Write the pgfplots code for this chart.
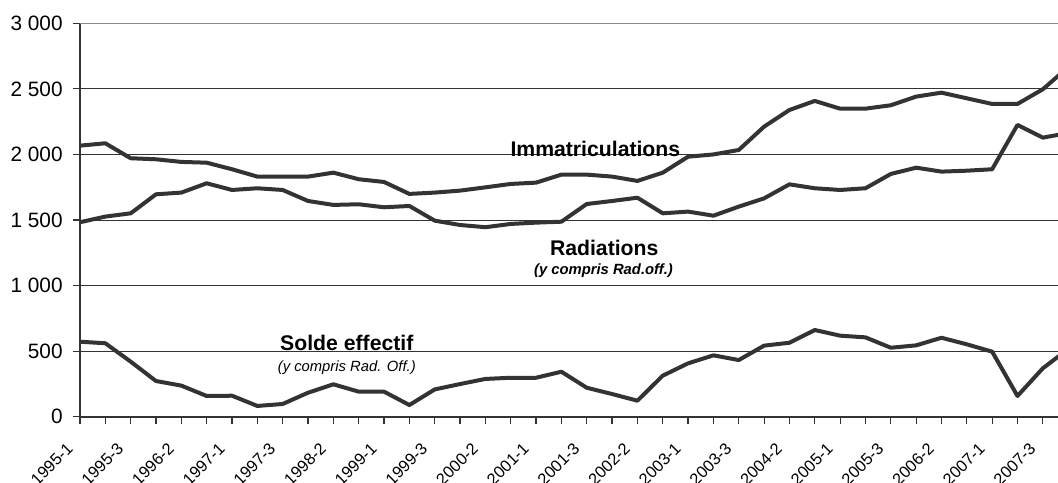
\documentclass[border=0pt]{standalone}
\usepackage{fontspec}
\setmainfont{Liberation Sans}
\usepackage{pgfplots}
\pgfplotsset{compat=1.18}
\definecolor{lc}{HTML}{333333}
\begin{document}
\begin{tikzpicture}
\begin{axis}[
  scale only axis, width=489pt, height=196.7pt,
  xmin=0, xmax=38.6, ymin=0, ymax=3000,
  axis x line*=bottom, axis y line*=left,
  axis line style={line width=1pt, black!80, -},
  ytick={0,500,...,3000},
  yticklabels={0,500,1 000,1 500,2 000,2 500,3 000},
  ymajorgrids, grid style={black!80, line width=0.5pt},
  xtick={0,2,...,38},
  xticklabels={1995-1,1995-3,1996-2,1997-1,1997-3,1998-2,1999-1,1999-3,2000-2,2001-1,2001-3,2002-2,2003-1,2003-3,2004-2,2005-1,2005-3,2006-2,2007-1,2007-3},
  minor xtick={1,3,...,37},
  tick align=outside,
  major tick length=3.5pt, minor tick length=3.5pt,
  tick style={black!80, line width=0.6pt},
  yticklabel style={anchor=east, inner sep=0pt, xshift=-5pt, font=\fontsize{10.4}{12}\selectfont},
  xticklabel style={xshift=-5pt, yshift=-11pt, rotate=45, anchor=east, inner sep=0pt, font=\fontsize{8.2}{9}\selectfont},
  clip=true,
]
\addplot[lc, line width=2pt, line join=round] table {
x y
0 2067
1 2085
2 1971
3 1963
4 1943
5 1937
6 1887
7 1831
8 1831
9 1831
10 1861
11 1811
12 1790
13 1699
14 1709
15 1724
16 1749
17 1775
18 1785
19 1846
20 1846
21 1831
22 1798
23 1861
24 1983
25 2000
26 2034
27 2212
28 2339
29 2408
30 2349
31 2349
32 2375
33 2441
34 2471
35 2428
36 2385
37 2385
38 2497
39 2665
};
\addplot[lc, line width=2pt, line join=round] table {
x y
0 1483
1 1526
2 1551
3 1696
4 1709
5 1780
6 1729
7 1742
8 1729
9 1645
10 1615
11 1620
12 1597
13 1607
14 1495
15 1462
16 1445
17 1470
18 1480
19 1487
20 1622
21 1645
22 1670
23 1551
24 1564
25 1533
26 1602
27 1665
28 1772
29 1742
30 1729
31 1742
32 1851
33 1899
34 1869
35 1876
36 1887
37 2225
38 2128
39 2163
};
\addplot[lc, line width=2pt, line join=round] table {
x y
0 572
1 560
2 420
3 272
4 237
5 158
6 160
7 82
8 97
9 183
10 247
11 191
12 191
13 89
14 208
15 249
16 288
17 297
18 297
19 343
20 221
21 173
22 122
23 313
24 407
25 468
26 432
27 542
28 564
29 661
30 618
31 605
32 526
33 544
34 602
35 552
36 496
37 158
38 369
39 516
};
\draw[line width=1pt, black!45] (rel axis cs:0,1) -- (rel axis cs:1,1);
\node[anchor=base, inner sep=0pt, font=\bfseries\fontsize{10.6}{12}\selectfont] at (axis cs:20.34,1983) {Immatriculations};
\node[anchor=base, inner sep=0pt, font=\bfseries\fontsize{10.6}{12}\selectfont] at (axis cs:20.69,1233) {Radiations};
\node[anchor=base, inner sep=0pt, font=\bfseries\itshape\fontsize{7.4}{9}\selectfont] at (axis cs:20.66,1088) {(y compris Rad.off.)};
\node[anchor=base, inner sep=0pt, font=\bfseries\fontsize{10.6}{12}\selectfont] at (axis cs:10.53,503) {Solde effectif};
\node[anchor=base, inner sep=0pt, font=\itshape\fontsize{7.4}{9}\selectfont] at (axis cs:10.53,343) {(y compris Rad. Off.)};
\end{axis}
\pgfresetboundingbox
\path[use as bounding box] (-40pt,-32.65pt) rectangle (489pt,208.35pt);
\end{tikzpicture}
\end{document}
